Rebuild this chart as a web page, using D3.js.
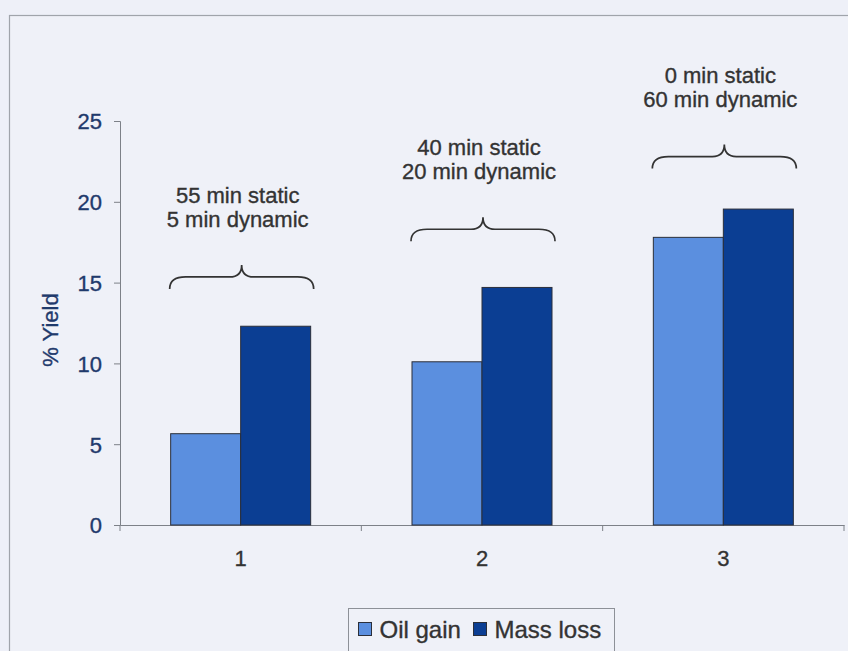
<!DOCTYPE html>
<html>
<head>
<meta charset="utf-8">
<script src="https://cdn.jsdelivr.net/npm/d3@7/dist/d3.min.js"></script>
<style>
  html, body { margin: 0; padding: 0; background: #eef0f8; }
  svg { display: block; font-family: Arial, "Liberation Sans", sans-serif; }
  text { paint-order: stroke; stroke-width: 0.35px; }
</style>
</head>
<body>
<svg id="chart" width="848" height="651"></svg>
<script>
// Extraction runs and their yields
const categories = ["1", "2", "3"];
const seriesNames = ["Oil gain", "Mass loss"];
const oilGain = [5.65, 10.1, 17.8];
const massLoss = [12.3, 14.7, 19.55];
const yTicks = [0, 5, 10, 15, 20, 25];
// Brace annotations above each run (level in % yield units)
const braceLabels = [
  ["55 min static", "5 min dynamic"],
  ["40 min static", "20 min dynamic"],
  ["0 min static", "60 min dynamic"]
];
const braceLevels = [15.35, 18.3, 22.8];

const colors = { "Oil gain": "#5b8fdf", "Mass loss": "#0b3e93" };
const navy = "#1f3a6c", ink = "#333";

const svg = d3.select("#chart");
const W = 848, H = 651;
const plot = { left: 120, right: 844, top: 121, bottom: 525 };

// outer frame
svg.append("rect")
  .attr("x", 9.5).attr("y", 15.5)
  .attr("width", W + 20).attr("height", H + 20)
  .attr("fill", "#eff1f8").attr("stroke", "#a0a4ab").attr("stroke-width", 1.2);

const x = d3.scaleBand().domain(categories).range([plot.left, plot.right]);
const xInner = d3.scaleBand().domain(seriesNames).range([0, 140]);
const y = d3.scaleLinear().domain([0, 25]).range([plot.bottom, plot.top]);

// y axis
const yAxis = d3.axisLeft(y).tickValues(yTicks).tickSize(6).tickPadding(12);
const gy = svg.append("g").attr("transform", `translate(${plot.left},0)`).call(yAxis);
gy.select(".domain").attr("stroke", "#7d8188");
gy.selectAll(".tick line").attr("stroke", "#7d8188");
gy.selectAll(".tick text")
  .attr("fill", navy).attr("stroke", navy).style("font-size", "22px").attr("dy", "0.36em");

// x axis
const xAxis = d3.axisBottom(x).tickSize(0).tickPadding(25);
const gx = svg.append("g").attr("transform", `translate(0,${plot.bottom})`).call(xAxis);
gx.select(".domain").attr("stroke", "#7d8188");
gx.selectAll(".tick text").attr("fill", ink).attr("stroke", ink).style("font-size", "22px");
// separators between runs
const bounds = categories.map(c => x(c)).concat([x(categories[categories.length - 1]) + x.bandwidth()]);
gx.selectAll("line.sep").data(bounds).join("line")
  .attr("class", "sep")
  .attr("x1", d => d).attr("x2", d => d)
  .attr("y1", 0).attr("y2", 6)
  .attr("stroke", "#7d8188");

// y label
svg.append("text")
  .attr("transform", `translate(58,${(plot.top + plot.bottom) / 2 + 7}) rotate(-90)`)
  .attr("text-anchor", "middle")
  .attr("fill", navy).attr("stroke", navy).style("font-size", "22px")
  .text("% Yield");

// bars
const rows = categories.map((c, i) => ({ cat: c, values: [
  { name: "Oil gain", v: oilGain[i] },
  { name: "Mass loss", v: massLoss[i] }
]}));
const groups = svg.append("g").selectAll("g").data(rows).join("g")
  .attr("transform", d => `translate(${x(d.cat) + x.bandwidth() / 2 - 70},0)`);
groups.selectAll("rect").data(d => d.values).join("rect")
  .attr("x", d => xInner(d.name))
  .attr("width", xInner.bandwidth())
  .attr("y", d => y(d.v))
  .attr("height", d => y(0) - y(d.v))
  .attr("fill", d => colors[d.name])
  .attr("stroke", "#2b2f3a").attr("stroke-width", 1);

// braces and their labels
function bracePath(x0, x1, yh) {
  const xm = (x0 + x1) / 2, r = 12;
  return `M${x0},${yh + r} Q${x0},${yh} ${x0 + 16},${yh} L${xm - 12},${yh} ` +
         `Q${xm},${yh} ${xm},${yh - r} Q${xm},${yh} ${xm + 12},${yh} ` +
         `L${x1 - 16},${yh} Q${x1},${yh} ${x1},${yh + r}`;
}
const ann = svg.append("g").selectAll("g").data(categories).join("g");
ann.append("path")
  .attr("d", (c, i) => {
    const cx = x(c) + x.bandwidth() / 2;
    return bracePath(cx - 71, cx + 73, y(braceLevels[i]));
  })
  .attr("fill", "none").attr("stroke", ink).attr("stroke-width", 1.7);
ann.each(function (c, i) {
  const cx = x(c) + x.bandwidth() / 2 - 3;
  const yTip = y(braceLevels[i]) - 12;
  const t = d3.select(this).append("text")
    .attr("text-anchor", "middle").attr("fill", ink).attr("stroke", ink).style("font-size", "22px");
  braceLabels[i].forEach((line, k) => {
    t.append("tspan").attr("x", cx).attr("y", yTip - 38 + (k - 1) * 24).text(line);
  });
});

// legend
const lg = svg.append("g").attr("transform", "translate(348.5,608.5)");
lg.append("rect").attr("width", 266).attr("height", 44)
  .attr("fill", "#eff1f8").attr("stroke", "#8d9198");
const items = [
  { name: "Oil gain", sx: 10, tx: 31 },
  { name: "Mass loss", sx: 125, tx: 146 }
];
items.forEach(it => {
  lg.append("rect").attr("x", it.sx).attr("y", 14).attr("width", 13).attr("height", 13)
    .attr("fill", colors[it.name]).attr("stroke", "#2b2f3a");
  lg.append("text").attr("x", it.tx).attr("y", 29.5)
    .attr("fill", ink).attr("stroke", ink).style("font-size", "24px").text(it.name);
});
</script>
</body>
</html>
